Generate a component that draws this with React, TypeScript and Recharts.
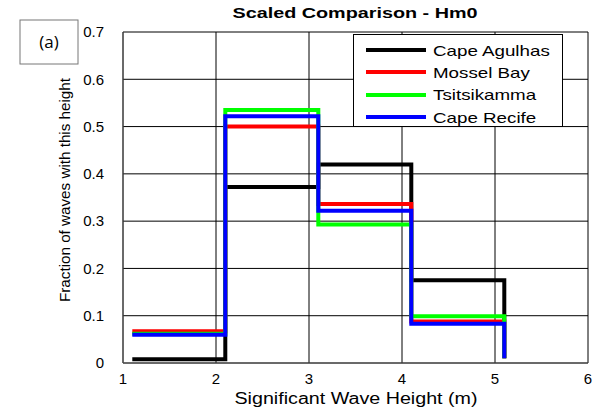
import React from "react";
import { LineChart, Line, XAxis, YAxis, CartesianGrid } from "recharts";

// Bin edges (m) where each stair step starts
const binStarts = [1.1, 2.1, 3.1, 4.1, 5.1];

// Fraction of waves per height bin, one list per station
const capeAgulhas = [0.008, 0.372, 0.42, 0.175, 0.01];
const mosselBay = [0.067, 0.5, 0.336, 0.088, 0.01];
const tsitsikamma = [0.062, 0.535, 0.293, 0.099, 0.01];
const capeRecife = [0.06, 0.522, 0.322, 0.083, 0.01];

const xTicks = [1, 2, 3, 4, 5, 6];
const yTicks = [0, 0.1, 0.2, 0.3, 0.4, 0.5, 0.6, 0.7];

const series = [
  { key: "agulhas", name: "Cape Agulhas", color: "#000000" },
  { key: "mossel", name: "Mossel Bay", color: "#ff0000" },
  { key: "tsitsi", name: "Tsitsikamma", color: "#00ff00" },
  { key: "recife", name: "Cape Recife", color: "#0000ff" },
];

const data = binStarts.map((h, i) => ({
  h,
  agulhas: capeAgulhas[i],
  mossel: mosselBay[i],
  tsitsi: tsitsikamma[i],
  recife: capeRecife[i],
}));

const font = "'Liberation Sans', Arial, sans-serif";

// legend drawn as an overlay so it doesn't eat into the plot area
function LegendBox() {
  return (
    <div
      style={{
        position: "absolute",
        left: 353,
        top: 34,
        border: "1px solid #000",
        background: "#fff",
        width: 210,
        height: 93,
        boxSizing: "border-box",
        padding: "4px 0 0 12px",
        fontFamily: font,
        fontSize: 15,
        color: "#000",
      }}
    >
      {series.map((s) => (
        <div
          key={s.key}
          style={{ display: "flex", alignItems: "center", height: 22.3 }}
        >
          <div
            style={{
              width: 60,
              height: 4,
              background: s.color,
              marginRight: 7,
              flex: "none",
            }}
          />
          <span
            style={{
              display: "inline-block",
              transform: "scaleX(1.25)",
              transformOrigin: "left center",
              whiteSpace: "nowrap",
            }}
          >
            {s.name}
          </span>
        </div>
      ))}
    </div>
  );
}

export default function App() {
  return (
    <div
      style={{
        position: "absolute",
        left: 0,
        top: 0,
        width: 596,
        height: 414,
        background: "#fff",
        fontFamily: font,
      }}
    >
      <LineChart
        width={596}
        height={414}
        data={data}
        margin={{ top: 32, right: 8, bottom: 31, left: 83 }}
      >
        <CartesianGrid stroke="#000" strokeWidth={1} />
        <XAxis
          dataKey="h"
          type="number"
          domain={[1, 6]}
          ticks={xTicks}
          height={20}
          tickLine={false}
          axisLine={{ stroke: "#555" }}
          tick={{ fontSize: 15, fill: "#000", fontFamily: font }}
          tickMargin={4}
        />
        <YAxis
          type="number"
          domain={[0, 0.7]}
          ticks={yTicks}
          width={40}
          tickLine={false}
          axisLine={{ stroke: "#555" }}
          tick={{ fontSize: 15, fill: "#000", fontFamily: font }}
          tickMargin={13}
        />
        {series.map((s) => (
          <Line
            key={s.key}
            dataKey={s.key}
            name={s.name}
            type="stepAfter"
            stroke={s.color}
            strokeWidth={4}
            dot={false}
            activeDot={false}
            isAnimationActive={false}
          />
        ))}
        <text
          x={355}
          y={18}
          textAnchor="middle"
          fontFamily={font}
          fontSize={15}
          fontWeight="bold"
          textLength={245}
          lengthAdjust="spacingAndGlyphs"
        >
          Scaled Comparison - Hm0
        </text>
        <text
          x={356}
          y={404}
          textAnchor="middle"
          fontFamily={font}
          fontSize={16}
          textLength={243}
          lengthAdjust="spacingAndGlyphs"
        >
          Significant Wave Height (m)
        </text>
        <text
          x={70}
          y={190}
          textAnchor="middle"
          fontFamily={font}
          fontSize={15}
          textLength={224}
          lengthAdjust="spacingAndGlyphs"
          transform="rotate(-90 70 190)"
        >
          Fraction of waves with this height
        </text>
        <rect
          x={20}
          y={20}
          width={58}
          height={44}
          fill="#fff"
          stroke="#777"
          strokeWidth={1}
        />
        <text
          x={49}
          y={48}
          textAnchor="middle"
          fontFamily="'Open Sans', sans-serif"
          fontSize={17}
        >
          (a)
        </text>
      </LineChart>
      <LegendBox />
    </div>
  );
}
